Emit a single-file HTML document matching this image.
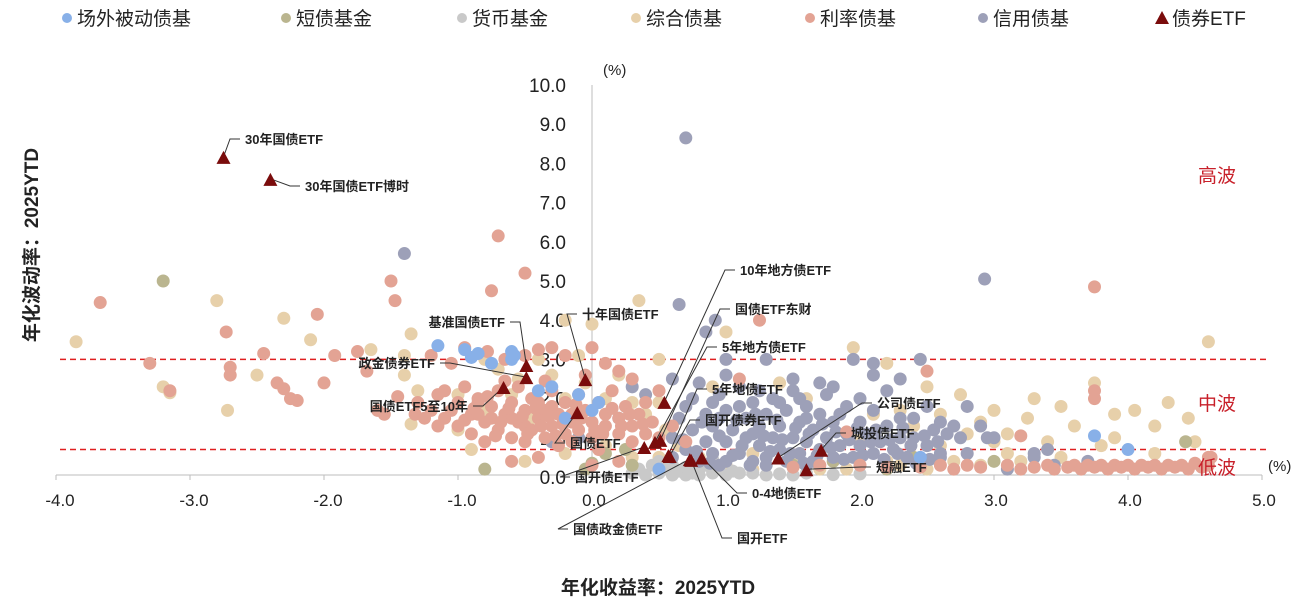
<!DOCTYPE html>
<html><head><meta charset="utf-8">
<style>
body{margin:0;background:#fff;}
svg{display:block;font-family:"Liberation Sans","Noto Sans CJK SC",sans-serif;}
</style></head>
<body>
<svg id="chart" width="1302" height="609" viewBox="0 0 1302 609"></svg>
<script>
const seriesNames=["场外被动债基","短债基金","货币基金","综合债基","利率债基","信用债基","债券ETF"];
const seriesColors=["#88b0e8","#bab58f","#c9c9c9","#e7d0aa","#e3a394","#9da0b8","#7a0c0c"];
const xTicks=[-4,-3,-2,-1,0,1,2,3,4,5];
const yTicks=[0,1,2,3,4,5,6,7,8,9,10];
const bandLines=[3.0,0.7];
const otcPassive=[[-1.15,3.35],[-0.95,3.25],[-0.9,3.05],[-0.85,3.15],[-0.6,3.2],[-0.6,3.0],[-0.75,2.9],[-0.58,3.1],[-0.4,2.2],[-0.3,2.3],[-0.1,2.1],[0.0,1.7],[0.05,1.9],[-0.2,1.5],[3.75,1.05],[4.0,0.7],[0.5,0.2],[2.45,0.5]];
const shortBond=[[-3.2,5.0],[-0.8,0.2],[0.0,0.35],[0.25,0.7],[4.43,0.9],[1.5,0.3],[1.8,0.4],[2.4,0.5],[0.1,0.6],[0.3,0.3],[3.0,0.4],[2.2,0.2],[-0.05,0.2]];
const moneyFund=[[0.3,0.1],[0.35,0.2],[0.4,0.05],[0.45,0.3],[0.5,0.1],[0.55,0.2],[0.6,0.05],[0.6,0.3],[0.65,0.15],[0.7,0.05],[0.7,0.25],[0.75,0.1],[0.8,0.2],[0.8,0.05],[0.85,0.3],[0.9,0.1],[0.95,0.2],[1.0,0.05],[1.05,0.15],[1.1,0.1],[0.5,0.4],[0.75,0.4],[0.9,0.45],[1.2,0.1],[1.3,0.05],[1.4,0.08],[1.5,0.05],[1.6,0.1],[1.8,0.06],[2.0,0.08]];
const mixedBond=[[-3.85,3.45],[-3.2,2.3],[-3.15,2.15],[-2.8,4.5],[-2.72,1.7],[-2.3,4.05],[-2.5,2.6],[-2.1,3.5],[-1.65,3.25],[-1.4,3.1],[-1.4,2.6],[-1.35,3.65],[-1.3,2.2],[-1.35,1.35],[-1.0,2.1],[-0.8,3.0],[-0.7,2.75],[-0.55,2.5],[-0.4,3.0],[-0.2,4.0],[0.0,3.9],[0.35,4.5],[0.5,3.0],[-0.1,3.1],[1.0,3.7],[1.95,3.3],[2.2,2.9],[2.5,2.3],[2.6,1.6],[2.3,1.7],[2.9,1.4],[3.1,1.1],[3.3,2.0],[3.5,1.8],[3.75,2.4],[3.9,1.6],[4.05,1.7],[4.2,1.3],[4.3,1.9],[4.6,3.45],[4.45,1.5],[3.8,0.8],[3.6,1.3],[3.25,1.5],[3.0,1.7],[2.75,2.1],[2.4,1.3],[2.1,1.6],[2.0,1.0],[2.2,0.4],[2.6,0.8],[3.4,0.9],[3.9,1.0],[4.2,0.6],[4.5,0.9],[3.1,0.6],[2.9,0.3],[-1.0,1.2],[-0.8,1.7],[-0.6,2.1],[-0.45,1.5],[-0.3,2.6],[-0.2,2.0],[-0.05,2.4],[0.1,2.0],[0.2,2.6],[0.3,1.9],[0.4,1.6],[0.5,1.9],[0.55,1.2],[0.65,0.8],[0.8,0.5],[1.0,0.3],[1.2,0.6],[1.5,0.5],[1.7,0.2],[0.1,0.8],[-0.2,0.6],[-0.5,0.4],[0.9,2.3],[1.4,2.4],[1.6,2.0],[0.5,0.5],[-0.9,0.7],[2.3,0.3],[2.5,0.2],[2.7,0.4],[3.2,0.4],[3.5,0.5],[3.0,0.9],[2.8,1.1],[1.9,0.2],[1.2,0.2],[0.3,0.5]];
const rateBond=[[-3.67,4.45],[-3.3,2.9],[-3.15,2.2],[-2.73,3.7],[-2.7,2.8],[-2.7,2.6],[-2.45,3.15],[-2.35,2.4],[-2.3,2.25],[-2.2,1.95],[-2.25,2.0],[-2.05,4.15],[-2.0,2.4],[-1.92,3.1],[-1.75,3.2],[-1.68,2.7],[-1.6,1.7],[-1.55,1.6],[-1.47,4.5],[-1.5,5.0],[-1.45,2.05],[-1.32,1.6],[-1.2,3.1],[-1.1,2.2],[-1.05,2.9],[-0.95,3.3],[-0.85,1.9],[-0.75,4.75],[-0.7,6.15],[-0.78,3.2],[-0.65,3.0],[-0.5,5.2],[-0.5,3.1],[-0.4,3.25],[-0.3,3.3],[-0.2,3.1],[0.1,2.9],[0.3,2.5],[0.0,3.3],[0.2,2.7],[0.5,2.2],[1.25,4.0],[1.9,1.15],[2.5,2.7],[3.75,4.85],[3.75,2.2],[3.75,2.0],[3.2,1.05],[4.6,0.5],[1.1,2.5],
[-1.3,1.9],[-1.2,1.7],[-1.15,2.1],[-1.1,1.5],[-1.0,1.9],[-1.0,1.3],[-0.95,2.3],[-0.9,1.6],[-0.9,1.1],[-0.85,2.0],[-0.8,1.4],[-0.8,0.9],[-0.75,1.8],[-0.7,2.2],[-0.7,1.2],[-0.65,1.6],[-0.6,1.9],[-0.6,1.0],[-0.55,1.4],[-0.55,2.3],[-0.5,1.7],[-0.5,0.9],[-0.45,2.0],[-0.45,1.2],[-0.4,1.5],[-0.4,1.9],[-0.35,1.0],[-0.35,1.7],[-0.3,2.2],[-0.3,1.3],[-0.25,1.6],[-0.2,1.9],[-0.2,1.1],[-0.15,1.4],[-0.1,2.1],[-0.1,1.2],[-0.05,1.7],[0.0,1.0],[0.0,1.4],[0.05,1.9],[0.1,1.3],[0.1,1.6],[0.15,2.2],[0.2,1.1],[0.2,1.5],[0.25,1.8],[0.3,1.3],[0.35,1.6],[0.4,1.1],[0.45,1.4],[0.5,1.0],[0.3,0.9],[-0.25,0.8],[-0.6,1.5],[-0.85,1.6],[-1.05,1.7],[-0.75,1.5],[-0.5,1.3],[-0.3,1.8],[-0.15,1.6],[0.6,1.3],[0.7,0.9],[-0.4,0.5],[-0.6,0.4],[0.0,0.3],[0.2,0.4],
[-0.95,1.45],[-0.88,1.75],[-0.72,1.05],[-0.68,1.4],[-0.62,1.75],[-0.52,1.55],[-0.48,1.1],[-0.42,1.75],[-0.38,1.3],[-0.32,1.55],[-0.27,1.05],[-0.22,1.35],[-0.12,1.85],[-0.08,1.5],[0.02,1.2],[0.08,1.1],[0.15,1.75],[0.22,1.3],[0.28,1.6],[0.38,1.35],[-1.15,1.3],[-1.25,1.5],[-0.78,2.05],[-0.65,2.45],[-0.35,2.45],[-0.05,2.6],[0.4,1.9],[0.05,0.7],[-0.15,0.9],
[2.45,0.25],[2.6,0.3],[2.7,0.2],[2.8,0.3],[2.9,0.25],[3.1,0.3],[3.2,0.2],[3.3,0.25],[3.4,0.3],[3.45,0.2],[3.55,0.25],[3.6,0.3],[3.65,0.2],[3.7,0.3],[3.75,0.25],[3.8,0.3],[3.85,0.2],[3.9,0.3],[3.95,0.25],[4.0,0.3],[4.05,0.2],[4.1,0.3],[4.15,0.25],[4.2,0.3],[4.25,0.2],[4.3,0.3],[4.35,0.25],[4.4,0.3],[4.45,0.2],[4.5,0.35],[4.55,0.25],[4.6,0.3],[4.62,0.5],[2.0,0.3],[2.2,0.25],[1.7,0.3],[1.5,0.25]];
const creditBond=[[-1.4,5.7],[0.7,8.65],[0.65,4.4],[0.92,4.0],[0.85,3.7],[2.93,5.05],[1.5,2.5],[1.8,2.3],[2.1,2.6],[2.45,3.0],[1.95,3.0],[2.8,1.8],[2.9,1.3],[3.0,1.0],[3.45,0.3],[3.3,0.5],[2.1,2.9],[1.3,3.0],[1.0,3.0],[0.6,2.5],[0.4,2.1],[0.3,2.3],[0.2,1.5],[-0.1,1.0],[-0.3,0.9],[2.4,1.0],[2.6,0.6],
[0.6,0.5],[0.6,1.0],[0.65,1.5],[0.7,0.7],[0.75,1.2],[0.75,2.0],[0.8,0.4],[0.85,0.9],[0.85,1.6],[0.9,0.6],[0.9,1.3],[0.95,2.1],[1.0,0.4],[1.0,0.9],[1.0,1.7],[1.05,1.2],[1.1,0.6],[1.1,2.3],[1.15,1.0],[1.15,1.5],[1.2,0.4],[1.2,1.9],[1.25,0.8],[1.25,1.3],[1.3,0.5],[1.3,1.6],[1.35,1.0],[1.35,2.0],[1.4,0.7],[1.4,1.3],[1.45,0.4],[1.45,1.7],[1.5,1.0],[1.5,2.2],[1.55,0.6],[1.55,1.4],[1.6,0.9],[1.6,1.8],[1.65,0.4],[1.65,1.2],[1.7,0.7],[1.7,1.6],[1.75,1.0],[1.8,0.5],[1.8,1.4],[1.85,0.8],[1.9,1.1],[1.9,1.8],[1.95,0.5],[2.0,0.8],[2.0,1.4],[2.05,1.1],[2.1,0.6],[2.15,0.9],[2.2,1.3],[2.25,0.7],[2.3,1.0],[2.35,0.5],[2.4,1.5],[2.5,0.8],[2.55,1.2],[2.6,0.5],[0.7,1.8],[0.9,1.9],[1.2,1.1],[1.3,0.3],[1.6,0.3],[0.95,0.3],[1.75,2.1],[2.7,1.3],[2.75,1.0],[2.5,1.8],[2.2,2.2],[0.8,2.4],[1.0,2.6],[2.95,1.0],[2.8,0.6],[3.1,0.2],[3.3,0.6],[3.7,0.4],[3.4,0.7],
[0.68,0.95],[0.78,0.65],[0.82,1.4],[0.88,0.35],[0.95,1.05],[1.05,0.55],[1.08,1.45],[1.12,0.8],[1.18,0.3],[1.22,1.6],[1.28,1.05],[1.33,0.65],[1.38,1.45],[1.42,0.95],[1.48,0.6],[1.52,1.25],[1.58,0.35],[1.62,1.1],[1.68,0.55],[1.72,1.35],[1.78,0.75],[1.82,1.15],[1.88,0.45],[1.92,0.95],[1.98,1.25],[2.02,0.55],[2.08,0.9],[2.12,1.2],[2.18,0.45],[2.22,0.95],[2.28,0.6],[2.32,1.25],[2.38,0.8],[2.42,0.35],[2.48,1.05],[2.52,0.45],[2.58,0.9],[2.65,1.1],[1.1,1.8],[1.4,1.9],[1.6,1.5],[1.85,1.6],[2.1,1.7],[2.3,1.5],[2.6,1.4],[0.95,1.5],[1.25,2.2],[1.55,2.0],[2.0,2.0],[2.3,2.5],[1.7,2.4]];
const etfNames=["30年国债ETF","30年国债ETF博时","基准国债ETF","政金债券ETF","国债ETF5至10年","十年国债ETF","国债ETF","10年地方债ETF","国开债ETF","国债ETF东财","5年地方债ETF","5年地债ETF","国开债券ETF","国债政金债ETF","0-4地债ETF","国开ETF","公司债ETF","城投债ETF","短融ETF"];
const etfX=[-2.75,-2.40,-0.49,-0.49,-0.66,-0.05,-0.11,0.54,0.39,0.51,0.47,0.57,0.58,0.73,0.82,0.74,1.39,1.71,1.60];
const etfY=[8.09,7.53,2.78,2.47,2.22,2.42,1.58,1.84,0.69,0.87,0.82,0.48,0.46,0.38,0.42,0.36,0.42,0.62,0.12];
const etfLabelPos=[[245,143,"start"],[305,190,"start"],[505,326,"end"],[435,367,"end"],[468,410,"end"],[582,318,"start"],[570,447,"start"],[740,274,"start"],[575,481,"start"],[735,313,"start"],[722,351,"start"],[712,393,"start"],[705,424,"start"],[573,533,"start"],[752,497,"start"],[737,542,"start"],[877,407,"start"],[851,437,"start"],[876,471,"start"]];

const NS="http://www.w3.org/2000/svg";
const svg=document.getElementById('chart');
function X(v){return 592+134*v;}
function Y(v){return 477-39.2*v;}
function mk(tag,attrs,parent){const e=document.createElementNS(NS,tag);for(const k in attrs)e.setAttribute(k,attrs[k]);(parent||svg).appendChild(e);return e;}

const yAxis=mk('line',{x1:X(0),x2:X(0),y1:Y(10),y2:Y(0),stroke:'#bdbdbd','stroke-width':1});


const xAxis=mk('line',{x1:X(-4),x2:X(5),y1:Y(0)-2,y2:Y(0)-2,stroke:'#bdbdbd','stroke-width':1});


xTicks.forEach(t=>{
  const tk=mk('line',{x1:X(t),x2:X(t),y1:Y(0)-2,y2:Y(0)+3,stroke:'#bdbdbd'});
  
  
  const tl=mk('text',{x:X(t)+ (t<0?4:2),y:506,'text-anchor':'middle','font-size':17,fill:'#222'});
  tl.textContent=t.toFixed(1);
  
  
});
yTicks.forEach(t=>{
  const tl=mk('text',{x:X(0)-26,y:Y(t)+7,'text-anchor':'end','font-size':19,fill:'#222'});
  tl.textContent=t.toFixed(1);
  
  
});
bandLines.forEach(b=>{
  const l=mk('line',{x1:60,x2:1268,y1:Y(b),y2:Y(b),stroke:'#e02020','stroke-width':1.5,'stroke-dasharray':'6,4'});
  
  
});

function dots(arr,idx,name){
  arr.forEach(p=>{
    const c=mk('circle',{cx:X(p[0]),cy:Y(p[1]),r:6.5,fill:seriesColors[idx]});
    
    
  });
}
dots(mixedBond,3,'mixed-bond-point');
dots(moneyFund,2,'money-fund-point');
dots(shortBond,1,'short-bond-point');
dots(creditBond,5,'credit-bond-point');
dots(rateBond,4,'rate-bond-point');
dots(otcPassive,0,'otc-passive-point');

etfNames.forEach((n,i)=>{
  const px=X(etfX[i]),py=Y(etfY[i]);
  const lp=etfLabelPos[i];
  const lx=lp[2]==='end'?lp[0]+5:lp[0]-5;
  const ex=lp[2]==='end'?lx+10:lx-10;
  const ld=mk('polyline',{points:`${lx},${lp[1]-4} ${ex},${lp[1]-4} ${px},${py-3}`,fill:'none',stroke:'#333','stroke-width':1});
  
  
});
etfNames.forEach((n,i)=>{
  const px=X(etfX[i]),py=Y(etfY[i]);
  const t=mk('polygon',{points:`${px},${py-9} ${px-7},${py+4} ${px+7},${py+4}`,fill:seriesColors[6]});
  
  
  const lp=etfLabelPos[i];
  const tx=mk('text',{x:lp[0],y:lp[1]+1,'text-anchor':lp[2],'font-size':13,'font-weight':'bold',fill:'#222'});
  tx.textContent=n;
  
  
});

const legX=[67,286,462,636,810,983,1162];
seriesNames.forEach((n,i)=>{
  const g=mk('g',{});
  
  
  if(i<6) mk('circle',{cx:legX[i],cy:18,r:5,fill:seriesColors[i]},g);
  else mk('polygon',{points:`${legX[i]},11 ${legX[i]-7},24 ${legX[i]+7},24`,fill:seriesColors[i]},g);
  const t=mk('text',{x:legX[i]+10,y:25,'font-size':19,fill:'#222'},g);
  t.textContent=n;
});

function txt(s,attrs,name){const t=mk('text',attrs);t.textContent=s;return t;}
txt('(%)',{x:603,y:75,'font-size':15,fill:'#222'},'y-unit-label');
txt('(%)',{x:1268,y:471,'font-size':15,fill:'#222'},'x-unit-label');
txt('高波',{x:1198,y:182,'font-size':19,fill:'#c8202a'},'high-vol-label');
txt('中波',{x:1198,y:410,'font-size':19,fill:'#c8202a'},'mid-vol-label');
txt('低波',{x:1198,y:474,'font-size':19,fill:'#c8202a'},'low-vol-label');
txt('年化收益率：2025YTD',{x:658,y:594,'text-anchor':'middle','font-size':19,'font-weight':'bold',fill:'#222'},'x-axis-title');
txt('年化波动率：2025YTD',{x:0,y:0,'text-anchor':'middle','font-size':19,'font-weight':'bold',fill:'#222',transform:'translate(38,245) rotate(-90)'},'y-axis-title');
</script>
</body></html>
